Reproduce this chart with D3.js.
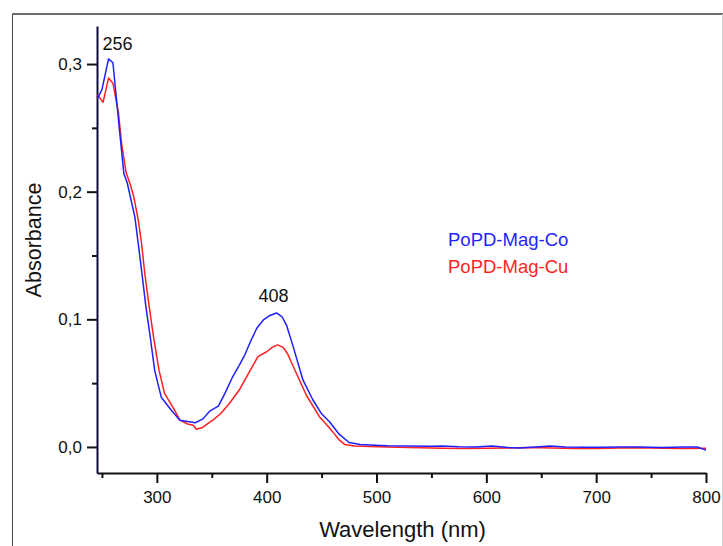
<!DOCTYPE html>
<html>
<head>
<meta charset="utf-8">
<script src="https://cdn.jsdelivr.net/npm/d3@7"></script>
<style>
  body { margin: 0; background: #fff; }
  text { font-family: "Liberation Sans", Arial, sans-serif; }
</style>
</head>
<body>
<svg id="uv_chart"></svg>
<script>
// wavelengths (nm) and absorbance
let coWave = [246, 250, 256, 260, 266, 270, 273, 280, 286, 290, 294, 298, 304, 313, 321, 328, 335, 342, 348, 356,
    362, 369, 375, 380, 386, 391, 397, 403, 409, 414, 418, 424, 433, 442, 450, 457, 466, 475, 485, 494,
    510, 530, 550, 560, 575, 590, 605, 620, 630, 645, 658, 672, 690, 705, 720, 740, 760, 780, 792, 800]
let coAbs = [0.273, 0.280, 0.304, 0.301, 0.248, 0.214, 0.207, 0.180, 0.139, 0.110, 0.086, 0.060, 0.039, 0.029, 0.021, 0.020, 0.019, 0.022, 0.028, 0.032,
    0.042, 0.055, 0.064, 0.072, 0.084, 0.093, 0.0995, 0.103, 0.105, 0.102, 0.0955, 0.079, 0.0525, 0.037, 0.026, 0.020, 0.010, 0.0035, 0.002, 0.0016,
    0.001, 0.0008, 0.0005, 0.0008, 0.0002, 0.0, 0.0008, -0.0005, -0.0008, 0.0, 0.0008, 0.0, -0.0003, -0.0002, 0.0, 0.0, -0.0004, 0.0, 0.0, -0.0025]

let cuWave = [246, 251, 256, 260, 265, 268, 272, 276, 279, 283, 286, 289, 293, 297, 302, 307, 316, 321, 328, 333,
    336, 341, 346, 351, 358, 366, 375, 385, 392, 400, 405, 410, 415, 419, 427, 436, 448, 456, 460, 466,
    471, 480, 494, 510, 530, 560, 580, 600, 620, 640, 660, 680, 700, 720, 740, 760, 780, 800]
let cuAbs = [0.276, 0.270, 0.289, 0.285, 0.262, 0.237, 0.215, 0.205, 0.196, 0.178, 0.160, 0.136, 0.110, 0.086, 0.060, 0.042, 0.029, 0.021, 0.018, 0.017,
    0.0139, 0.015, 0.018, 0.021, 0.026, 0.034, 0.0446, 0.060, 0.0707, 0.0746, 0.078, 0.080, 0.078, 0.073, 0.0577, 0.0407, 0.0237, 0.016, 0.012, 0.0055,
    0.002, 0.0008, 0.0003, 0.0, -0.0005, -0.001, -0.0012, -0.001, -0.0008, -0.0005, -0.0008, -0.0012, -0.0012, -0.0008, -0.0006, -0.001, -0.0012, -0.001]

let seriesNames = ["PoPD-Mag-Co", "PoPD-Mag-Cu"]
let seriesColors = ["#1f1fff", "#ff1f1f"]

let xTicks = [300, 400, 500, 600, 700, 800]
let xMinor = [250, 350, 450, 550, 650, 750]
let yTicks = [0.0, 0.1, 0.2, 0.3]
let yMinor = [0.05, 0.15, 0.25]

let peakLabels = [{w: 256, v: 0.304, text: "256"}, {w: 408, v: 0.105, text: "408"}]

let width = 723
let height = 546
let plot = {left: 97, right: 706, top: 26, bottom: 473}

let svg = d3.select("#uv_chart")
    .attr("width", width)
    .attr("height", height)

// page frame around the figure
svg.append("line").attr("x1", 12.5).attr("x2", 12.5).attr("y1", 13).attr("y2", height)
    .attr("stroke", "#444").attr("stroke-width", 1)
svg.append("line").attr("x1", 12).attr("x2", width).attr("y1", 14).attr("y2", 14)
    .attr("stroke", "#6e6e6e").attr("stroke-width", 2)
svg.append("line").attr("x1", 722.5).attr("x2", 722.5).attr("y1", 14).attr("y2", height)
    .attr("stroke", "#cfcfcf").attr("stroke-width", 1)

let xScale = d3.scaleLinear().domain([245.5, 800]).range([plot.left, plot.right])
let yScale = d3.scaleLinear().domain([-0.0204, 0.3298]).range([plot.bottom, plot.top])

let fmt = d => d3.format(".1f")(d).replace(".", ",")

// minor ticks first
svg.append("g")
    .attr("transform", "translate(0," + plot.bottom + ")")
    .call(d3.axisBottom(xScale).tickValues(xMinor).tickSize(5).tickFormat(""))
    .call(g => g.select(".domain").remove())
    .selectAll("line").attr("stroke", "#111").attr("stroke-width", 2)

svg.append("g")
    .attr("transform", "translate(" + plot.left + ",0)")
    .call(d3.axisLeft(yScale).tickValues(yMinor).tickSize(5).tickFormat(""))
    .call(g => g.select(".domain").remove())
    .selectAll("line").attr("stroke", "#111").attr("stroke-width", 2)

let xAxis = svg.append("g")
    .attr("id", "x_axis")
    .attr("transform", "translate(0," + plot.bottom + ")")
    .call(d3.axisBottom(xScale).tickValues(xTicks).tickSize(10).tickSizeOuter(0).tickPadding(8))
xAxis.select(".domain").attr("stroke", "#111").attr("stroke-width", 2)
xAxis.selectAll(".tick line").attr("stroke", "#111").attr("stroke-width", 2)
xAxis.selectAll(".tick text").attr("font-size", 17).attr("fill", "#111")
    .attr("font-family", "Liberation Sans, Arial, sans-serif")

let yAxis = svg.append("g")
    .attr("id", "y_axis")
    .attr("transform", "translate(" + plot.left + ",0)")
    .call(d3.axisLeft(yScale).tickValues(yTicks).tickSize(10).tickSizeOuter(0).tickPadding(5).tickFormat(fmt))
yAxis.select(".domain").attr("stroke", "#0c0c3c").attr("stroke-width", 2)
yAxis.selectAll(".tick line").attr("stroke", "#111").attr("stroke-width", 2)
yAxis.selectAll(".tick text").attr("font-size", 17).attr("fill", "#111")
    .attr("font-family", "Liberation Sans, Arial, sans-serif")

let line = d3.line()
    .x(d => xScale(d[0]))
    .y(d => yScale(d[1]))

let series = [d3.zip(cuWave, cuAbs), d3.zip(coWave, coAbs)]
let seriesColor = [seriesColors[1], seriesColors[0]]

svg.append("g").attr("id", "curves")
    .selectAll("path")
    .data(series)
    .join("path")
    .attr("d", line)
    .attr("fill", "none")
    .attr("stroke", (d, i) => seriesColor[i])
    .attr("stroke-width", 1.5)
    .attr("stroke-linejoin", "round")

// peak annotations
svg.append("text").text(peakLabels[0].text)
    .attr("x", xScale(peakLabels[0].w) - 6)
    .attr("y", yScale(peakLabels[0].v) - 9)
    .attr("font-size", 18).attr("fill", "#111")
svg.append("text").text(peakLabels[1].text)
    .attr("x", xScale(peakLabels[1].w) - 2)
    .attr("y", yScale(peakLabels[1].v) - 11)
    .attr("text-anchor", "middle")
    .attr("font-size", 18).attr("fill", "#111")

// legend (text only)
svg.append("g").selectAll("text")
    .data(seriesNames)
    .join("text")
    .text(d => d)
    .attr("x", 448)
    .attr("y", (d, i) => 246 + i * 27)
    .attr("font-size", 18.5)
    .attr("fill", (d, i) => seriesColors[i])

svg.append("text")
    .text("Wavelength (nm)")
    .attr("x", (plot.left + plot.right) / 2 + 1)
    .attr("y", 537)
    .attr("text-anchor", "middle")
    .attr("font-size", 22)
    .attr("fill", "#111")

svg.append("text")
    .text("Absorbance")
    .attr("text-anchor", "middle")
    .attr("font-size", 21.5)
    .attr("fill", "#111")
    .attr("transform", "translate(41, 240) rotate(-90)")
</script>
</body>
</html>
